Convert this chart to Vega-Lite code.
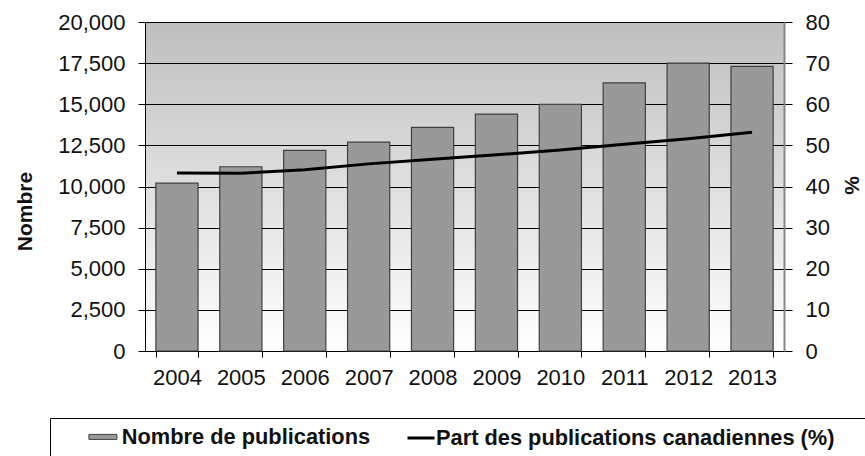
{
  "$schema": "https://vega.github.io/schema/vega-lite/v6.json",
  "autosize": "none",
  "width": 639,
  "height": 329,
  "padding": {"left": 145, "top": 22, "right": 81, "bottom": 105},
  "background": "white",
  "config": {
    "font": "Liberation Sans",
    "view": {
      "stroke": null,
      "fill": {"gradient": "linear", "x1": 0, "y1": 0, "x2": 0, "y2": 1,
        "stops": [{"offset": 0, "color": "#bfbfbf"}, {"offset": 1, "color": "#ffffff"}]}
    },
    "axis": {
      "labelFont": "Liberation Sans",
      "labelFontSize": 22,
      "labelColor": "#111111",
      "titleFont": "Liberation Sans",
      "titleColor": "#111111",
      "tickColor": "#000000",
      "domainColor": "#000000"
    },
    "legend": {
      "orient": "none",
      "direction": "horizontal",
      "labelFont": "Liberation Sans",
      "labelFontSize": 21.8,
      "labelFontWeight": "bold",
      "labelColor": "#111111",
      "labelLimit": 1200
    }
  },
  "data": {
    "values": [
      {"annee": "2004", "nombre": 10200, "part": 43.3},
      {"annee": "2005", "nombre": 11200, "part": 43.2},
      {"annee": "2006", "nombre": 12200, "part": 44.1},
      {"annee": "2007", "nombre": 12700, "part": 45.5},
      {"annee": "2008", "nombre": 13600, "part": 46.6},
      {"annee": "2009", "nombre": 14400, "part": 47.7},
      {"annee": "2010", "nombre": 15000, "part": 48.9},
      {"annee": "2011", "nombre": 16300, "part": 50.3},
      {"annee": "2012", "nombre": 17500, "part": 51.6},
      {"annee": "2013", "nombre": 17300, "part": 53.2}
    ]
  },
  "encoding": {
    "x": {
      "field": "annee",
      "type": "ordinal",
      "scale": {"paddingInner": 0.34, "paddingOuter": 0.17},
      "axis": {
        "title": null,
        "labelAngle": 0,
        "tickBand": "extent",
        "tickSize": 6,
        "labelPadding": 10,
        "domainColor": "#000000",
        "domainWidth": 1
      }
    }
  },
  "layer": [
    {
      "mark": {"type": "bar", "stroke": "#404040", "strokeWidth": 1.2},
      "encoding": {
        "y": {
          "field": "nombre",
          "type": "quantitative",
          "scale": {"domain": [0, 20000]},
          "axis": {
            "orient": "left",
            "title": "Nombre",
            "titleFontSize": 21,
            "titleFontWeight": "bold",
            "titleAngle": -90,
            "titleBaseline": "alphabetic",
            "titleAlign": "center",
            "titleX": -114,
            "titleY": 189,
            "values": [0, 2500, 5000, 7500, 10000, 12500, 15000, 17500, 20000],
            "format": ",d",
            "tickSize": 7,
            "labelPadding": 13,
            "grid": true,
            "gridColor": "#000000",
            "gridWidth": 1,
            "gridOpacity": 1,
            "domainColor": "#000000"
          }
        },
        "fill": {
          "datum": "Nombre de publications",
          "type": "nominal",
          "scale": {"range": ["#999999"]},
          "legend": {
            "legendX": -95,
            "legendY": 396,
            "title": " ",
            "titleOrient": "left",
            "titleFontSize": 21,
            "titlePadding": 34,
            "labelOffset": 8,
            "labelExpr": "pad(datum.label, 110, '\u00a0') + '\u200b'",
            "symbolType": "M-1.4,-0.25H1.4V0.25H-1.4Z",
            "symbolSize": 400,
            "symbolStrokeColor": "#404040",
            "symbolStrokeWidth": 1,
            "symbolOpacity": 1,
            "padding": 8,
            "strokeColor": "#000000"
          }
        }
      }
    },
    {
      "mark": {"type": "line", "strokeWidth": 3},
      "encoding": {
        "y": {
          "field": "part",
          "type": "quantitative",
          "scale": {"domain": [0, 80]},
          "axis": {
            "orient": "right",
            "title": "%",
            "titleFontSize": 21,
            "titleFontWeight": "bold",
            "titleAngle": -90,
            "titleBaseline": "alphabetic",
            "titleAlign": "center",
            "titleX": 74,
            "titleY": 163,
            "values": [0, 10, 20, 30, 40, 50, 60, 70, 80],
            "tickSize": 8,
            "labelPadding": 13,
            "grid": false,
            "domainColor": "#888888",
            "domainWidth": 2
          }
        },
        "stroke": {
          "datum": "Part des publications canadiennes (%)",
          "type": "nominal",
          "scale": {"range": ["#000000"]},
          "legend": {
            "legendX": 261,
            "legendY": 401,
            "title": null,
            "labelOffset": 0,
            "symbolType": "stroke",
            "symbolSize": 729,
            "symbolStrokeWidth": 3,
            "symbolOpacity": 1,
            "padding": 0
          }
        }
      }
    }
  ],
  "resolve": {"scale": {"y": "independent"}}
}
